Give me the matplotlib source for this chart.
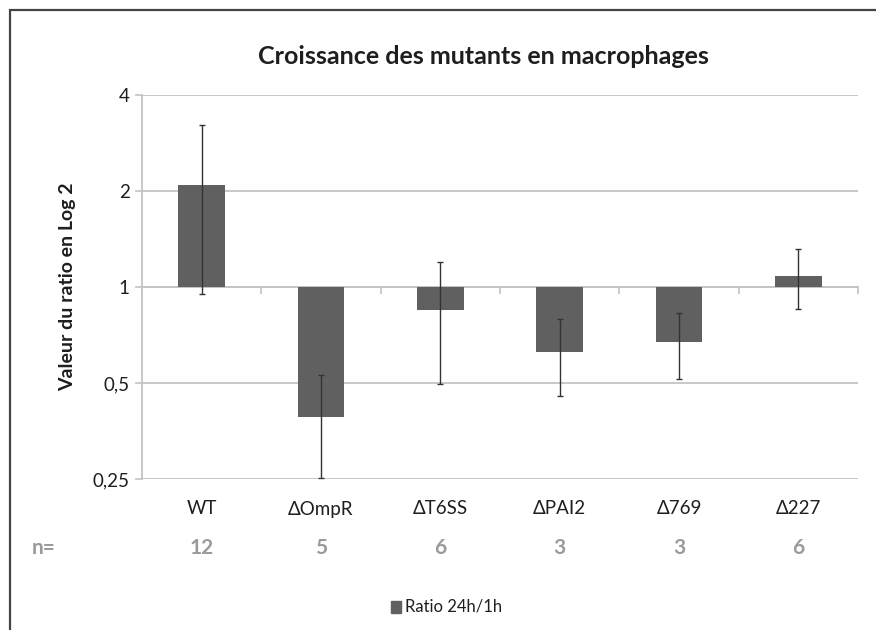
import matplotlib
matplotlib.use("Agg")
import matplotlib.pyplot as plt
import matplotlib.transforms as mtransforms
from matplotlib.patches import Rectangle
import numpy as np

# growth ratio 24h/1h per strain (geometric scale, bars drawn from 1)
strains = ["WT", "\u0394OmpR", "\u0394T6SS", "\u0394PAI2", "\u0394769", "\u0394227"]
ratio = [2.09, 0.391, 0.847, 0.624, 0.672, 1.083]
ratio_err = [1.14, 0.14, 0.35, 0.17, 0.157, 0.232]
n_reps = [12, 5, 6, 3, 3, 6]
yticks = [0.25, 0.5, 1, 2, 4]
ytick_labels = ["0,25", "0,5", "1", "2", "4"]

plt.rcParams["font.family"] = ["Lato", "DejaVu Sans"]

BAR = "#606060"
GRID = "#c4c4c4"
TEXT = "#1e1e1e"
NCOL = "#9a9a9a"

fig = plt.figure(figsize=(8.76, 6.3), dpi=100)
ax = fig.add_axes([142 / 876, 1 - 479 / 630, 716 / 876, 384 / 630])

x = np.arange(len(strains))
vals = np.array(ratio)
ax.bar(x, vals - 1, bottom=1, width=0.39, color=BAR, zorder=3)
ax.errorbar(x, vals, yerr=ratio_err, fmt="none", ecolor="#333333",
            elinewidth=1.0, capsize=2.5, capthick=1.0, zorder=4)

ax.set_yscale("log", base=2)
ax.set_ylim(0.25, 4)
ax.set_xlim(-0.5, len(strains) - 0.5)
ax.yaxis.set_major_locator(matplotlib.ticker.FixedLocator(yticks))
ax.yaxis.set_minor_locator(matplotlib.ticker.NullLocator())
ax.set_yticklabels(ytick_labels)
ax.tick_params(axis="y", length=5, color=GRID, width=1.2, labelsize=13.5,
               labelcolor=TEXT, pad=4)
ax.grid(axis="y", color=GRID, linewidth=1.3, zorder=0)

# category axis sits on ratio = 1, ticks at category boundaries
for side in ("top", "right"):
    ax.spines[side].set_visible(False)
ax.spines["left"].set_color(GRID)
ax.spines["left"].set_linewidth(1.3)
ax.spines["bottom"].set_position(("data", 1))
ax.spines["bottom"].set_color(GRID)
ax.spines["bottom"].set_linewidth(1.3)
ax.set_xticks(np.arange(len(strains) + 1) - 0.5)
ax.set_xticklabels([])
ax.tick_params(axis="x", length=5, color=GRID, width=1.2, direction="out")

trans = mtransforms.blended_transform_factory(ax.transData, fig.transFigure)
for i, (name, n) in enumerate(zip(strains, n_reps)):
    ax.text(i, 1 - 509 / 630, name, transform=trans, ha="center", va="center",
            fontsize=13.5, color=TEXT)
    ax.text(i, 1 - 548 / 630, str(n), transform=trans, ha="center", va="center",
            fontsize=15, color=NCOL, fontweight="bold")
fig.text(44 / 876, 1 - 548 / 630, "n=", ha="center", va="center",
         fontsize=15, color=NCOL, fontweight="bold")

ax.set_ylabel("Valeur du ratio en Log 2", fontsize=14, fontweight="bold",
              color=TEXT, labelpad=12)
fig.text(483 / 876, 1 - 57 / 630, "Croissance des mutants en macrophages",
         ha="center", va="center", fontsize=18, fontweight="bold", color=TEXT)

# legend
fig.patches.append(Rectangle((391 / 876, 1 - 613 / 630), 10 / 876, 12 / 630,
                             transform=fig.transFigure, color=BAR))
fig.text(405 / 876, 1 - 607 / 630, "Ratio 24h/1h", ha="left", va="center",
         fontsize=12, color=TEXT)

# outer frame, clipped by the image edge on the right and bottom
fig.patches.append(Rectangle((10 / 876, -0.05), 1.1, 1 - 10 / 630 + 0.05,
                             transform=fig.transFigure, fill=False,
                             edgecolor="#444444", linewidth=1.6))

fig.savefig("out.png", dpi=100)
